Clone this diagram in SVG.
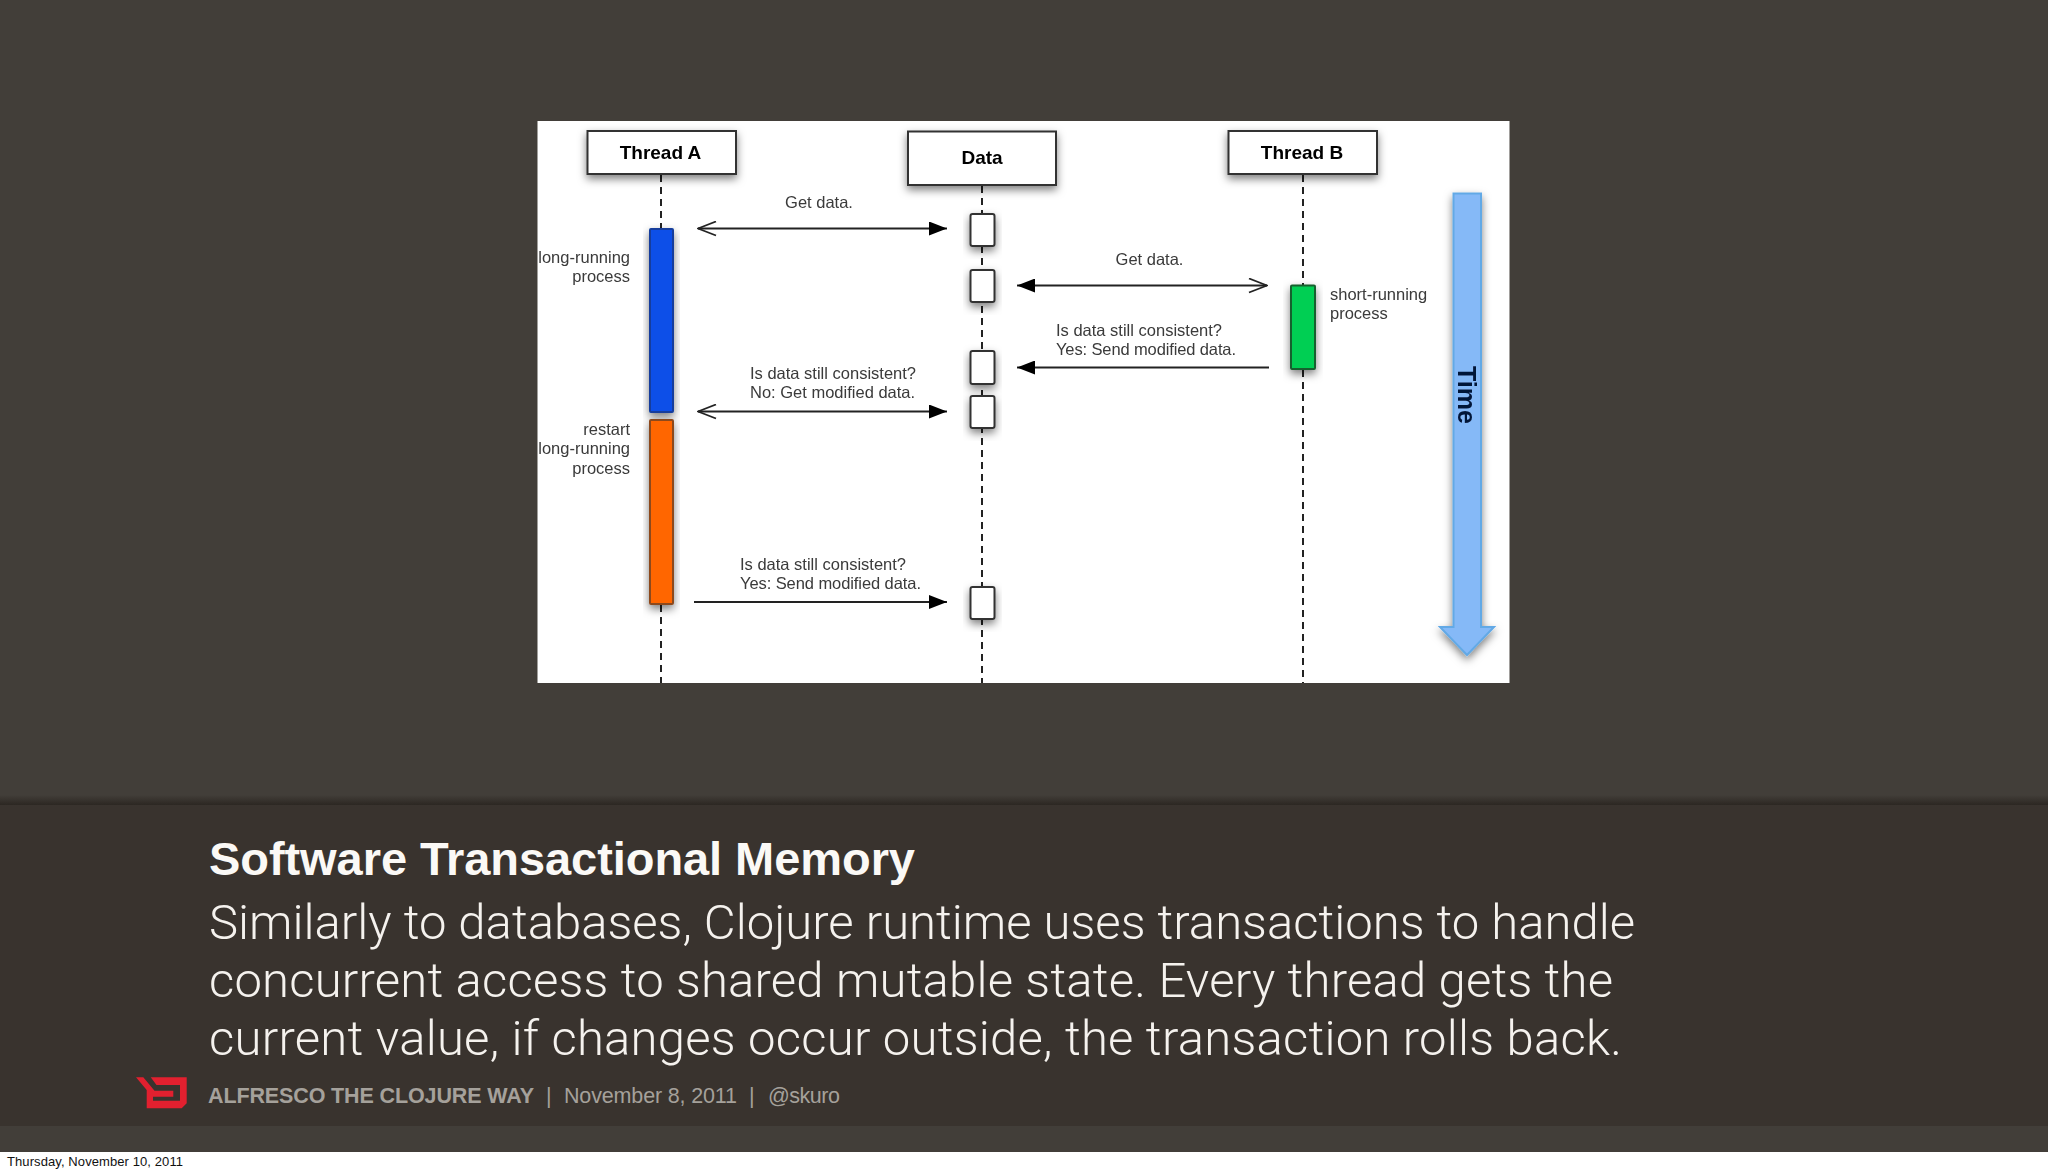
<svg xmlns="http://www.w3.org/2000/svg" width="2048" height="1173" viewBox="0 0 2048 1173">
<defs>
<filter id="soft" x="-2%" y="-2%" width="104%" height="104%"><feGaussianBlur stdDeviation="0.65"/></filter>
<filter id="shadow" x="-30%" y="-30%" width="160%" height="170%"><feDropShadow dx="0" dy="4" stdDeviation="4" flood-color="#000" flood-opacity="0.5"/></filter>
<linearGradient id="band" x1="0" y1="0" x2="0" y2="1"><stop offset="0" stop-color="#423e39"/><stop offset="1" stop-color="#2c2722"/></linearGradient>
<marker id="filled" viewBox="0 0 18 14" refX="18" refY="7" markerWidth="18" markerHeight="14" markerUnits="userSpaceOnUse" orient="auto-start-reverse"><path d="M0 0L18 7L0 14Z" fill="#000"/></marker>
<marker id="open" viewBox="0 0 20 16" refX="19" refY="8" markerWidth="20" markerHeight="16" markerUnits="userSpaceOnUse" orient="auto-start-reverse"><path d="M1 1L19 8L1 15" fill="none" stroke="#222" stroke-width="1.8"/></marker>
</defs>
<style>
.box{fill:#fff;stroke:#333;stroke-width:2}
.act{stroke-width:2;filter:url(#shadow)}
.life{stroke:#222;stroke-width:2;stroke-dasharray:7 5;fill:none}
.msg{stroke:#222;stroke-width:2;fill:none}
.sans{font-family:"Liberation Sans",Arial,sans-serif}
.head{font-size:19px;font-weight:700;fill:#000;text-anchor:middle}
.lab{font-size:16.5px;fill:#3a3a3a}
.end{text-anchor:end}
.body{font-family:Roboto,"Liberation Sans",sans-serif;font-weight:300;font-size:49px;fill:#f5f2ee}
.foot{font-size:21.5px;fill:#a5a19b}
</style>
<rect width="2048" height="1173" fill="#423e39"/>
<rect y="795" width="2048" height="10" fill="url(#band)"/>
<rect y="805" width="2048" height="321" fill="#39332e"/>
<rect y="1152" width="2048" height="21" fill="#fff"/>
<rect x="537.500" y="121" width="972" height="562" fill="#fff"/>
<g filter="url(#soft)">
<g id="connectors">
<path class="life" d="M661 175V228M661 605V683"/>
<path class="life" d="M982 186V683"/>
<path class="life" d="M1303 175V285M1303 370V683"/>
<path class="msg" d="M698 228.500H947" marker-start="url(#open)" marker-end="url(#filled)"/>
<path class="msg" d="M1017 285.500H1267" marker-start="url(#filled)" marker-end="url(#open)"/>
<path class="msg" d="M1269 367.500H1017" marker-end="url(#filled)"/>
<path class="msg" d="M698 411.500H947" marker-start="url(#open)" marker-end="url(#filled)"/>
<path class="msg" d="M694 602H947" marker-end="url(#filled)"/>
</g>
<g id="thread-a"><rect class="box" x="587.500" y="131" width="148.500" height="43" filter="url(#shadow)"/><text class="sans head" x="660.500" y="159">Thread A</text></g>
<g id="data"><rect class="box" x="908" y="131.500" width="148" height="53.500" filter="url(#shadow)"/><text class="sans head" x="982" y="164">Data</text></g>
<g id="thread-b"><rect class="box" x="1228.500" y="131" width="148.500" height="43" filter="url(#shadow)"/><text class="sans head" x="1302" y="159">Thread B</text></g>
<g id="blue-activation"><rect class="act" x="650" y="229" width="23" height="183" rx="1" fill="#0b50e8" stroke="#123c9c"/></g>
<g id="orange-activation"><rect class="act" x="650" y="420" width="23" height="184" rx="1" fill="#ff6600" stroke="#8c4a1e"/></g>
<g id="green-activation"><rect class="act" x="1291" y="285.500" width="24" height="83.500" rx="1" fill="#06cf52" stroke="#15602f"/></g>
<g id="data-1"><rect class="box act" x="970.500" y="214" width="24" height="32" rx="2"/></g>
<g id="data-2"><rect class="box act" x="970.500" y="270" width="24" height="32" rx="2"/></g>
<g id="data-3"><rect class="box act" x="970.500" y="351" width="24" height="33" rx="2"/></g>
<g id="data-4"><rect class="box act" x="970.500" y="396" width="24" height="32" rx="2"/></g>
<g id="data-5"><rect class="box act" x="970.500" y="587" width="24" height="32" rx="2"/></g>
<g id="time-arrow" filter="url(#shadow)"><path d="M1453.500 193.500H1481V627H1494L1467 655L1440 627H1453.500Z" fill="#85b9f7" stroke="#62a9e6" stroke-width="2"/><text class="sans" transform="translate(1458 395) rotate(90)" text-anchor="middle" font-size="25" font-weight="700" fill="#061638">Time</text></g>
<g id="labels" class="sans lab">
<text x="819" y="208" text-anchor="middle">Get data.</text>
<text x="1149.500" y="265" text-anchor="middle">Get data.</text>
<text class="end" x="630" y="263">long-running</text>
<text class="end" x="630" y="282">process</text>
<text x="1330" y="300">short-running</text>
<text x="1330" y="319">process</text>
<text x="1056" y="336">Is data still consistent?</text>
<text x="1056" y="355" textLength="180">Yes: Send modified data.</text>
<text x="750" y="379">Is data still consistent?</text>
<text x="750" y="398">No: Get modified data.</text>
<text class="end" x="630" y="435">restart</text>
<text class="end" x="630" y="454">long-running</text>
<text class="end" x="630" y="474">process</text>
<text x="740" y="570">Is data still consistent?</text>
<text x="740" y="589" textLength="181">Yes: Send modified data.</text>
</g>
</g>
<g id="caption">
<text class="sans" x="209" y="875" font-size="47" font-weight="700" fill="#fbf9f6" textLength="706">Software Transactional Memory</text>
<text class="body" x="209" y="939" textLength="1426">Similarly to databases, Clojure runtime uses transactions to handle</text>
<text class="body" x="209" y="997" textLength="1404">concurrent access to shared mutable state. Every thread gets the</text>
<text class="body" x="209" y="1055" textLength="1413">current value, if changes occur outside, the transaction rolls back.</text>
</g>
<g id="footer">
<path d="M136 1077.300H143.300L154.500 1090.700H173.300V1096.700H153V1100.700H180V1085H156.500L150.700 1077.300H186.700V1103.300L181.700 1108.300H146.700V1090Z" fill="#e2202f"/>
<text class="sans foot" x="208" y="1103" font-weight="700" textLength="326">ALFRESCO THE CLOJURE WAY</text>
<text class="sans foot" x="546" y="1103">|</text>
<text class="sans foot" x="564" y="1103" textLength="173">November 8, 2011</text>
<text class="sans foot" x="749" y="1103">|</text>
<text class="sans foot" x="768" y="1103" textLength="72">@skuro</text>
</g>
<text class="sans" x="7" y="1166" font-size="13" fill="#111" textLength="176">Thursday, November 10, 2011</text>
</svg>
